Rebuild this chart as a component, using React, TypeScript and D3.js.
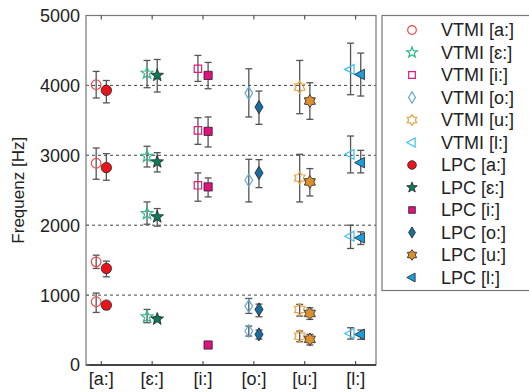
import { useEffect, useRef } from "react";
import * as d3 from "d3";

// vowel categories on the x axis
const categories = ["[a:]", "[\u025B:]", "[i:]", "[o:]", "[u:]", "[l:]"];
const yTicks = [0, 1000, 2000, 3000, 4000, 5000];
const gridValues = [1000, 2000, 3000, 4000];

// per category: formants F1..F4 (Hz); null = not measured
const vtmiValues = [
  [905, 1476, 2886, 4010],
  [690, 2167, 2986, 4176],
  [null, 2571, 3357, 4238],
  [486, 843, 2643, 3890],
  [414, 795, 2676, 3976],
  [452, 1843, 3014, 4229]
];
const vtmiLower = [
  [752, 1381, 2657, 3820],
  [605, 2014, 2833, 3967],
  [null, 2343, 3157, 4057],
  [414, 738, 2333, 3548],
  [333, 700, 2333, 3595],
  [371, 1667, 2748, 3867]
];
const vtmiUpper = [
  [1029, 1571, 3104, 4200],
  [795, 2333, 3129, 4357],
  [null, 2748, 3538, 4429],
  [557, 952, 2943, 4238],
  [486, 867, 3014, 4357],
  [533, 2000, 3276, 4604]
];
const lpcValues = [
  [857, 1381, 2824, 3930],
  [657, 2119, 2905, 4143],
  [286, 2548, 3343, 4143],
  [438, 795, 2748, 3690],
  [367, 738, 2619, 3776],
  [438, 1819, 2895, 4157]
];
const lpcLower = [
  [795, 1262, 2643, 3750],
  [629, 1986, 2762, 3905],
  [null, 2405, 3119, 3952],
  [371, 690, 2538, 3443],
  [286, 652, 2419, 3514],
  [367, 1724, 2748, 3848]
];
const lpcUpper = [
  [905, 1486, 3024, 4070],
  [690, 2238, 3038, 4371],
  [null, 2676, 3548, 4329],
  [500, 871, 2938, 3919],
  [438, 819, 2810, 4038],
  [500, 1905, 3071, 4462]
];

const shapes = ["circle", "star", "square", "diamond", "hexagram", "triangle"];
const openColors = ["#f04848", "#2db88c", "#e2197f", "#62a8d6", "#e8a040", "#3cc0f0"];
const fillColors = ["#e8141c", "#0e7a5a", "#e0127e", "#1a6c9e", "#d8912e", "#1a9ee0"];

function markerPath(shape: string, r: number): string {
  const poly = (pts: [number, number][]) =>
    "M" + pts.map((p) => `${p[0].toFixed(2)},${p[1].toFixed(2)}`).join("L") + "Z";
  const starPts = (n: number, inner: number) => {
    const pts: [number, number][] = [];
    for (let k = 0; k < 2 * n; k++) {
      const a = -Math.PI / 2 + (k * Math.PI) / n;
      const rr = k % 2 === 0 ? r : r * inner;
      pts.push([rr * Math.cos(a), rr * Math.sin(a)]);
    }
    return pts;
  };
  switch (shape) {
    case "circle":
      return d3.symbol(d3.symbolCircle, Math.PI * r * r)() as string;
    case "star":
      return poly(starPts(5, 0.42));
    case "square":
      return poly([[-r, -r], [r, -r], [r, r], [-r, r]]);
    case "diamond":
      return poly([[0, -r], [r * 0.62, 0], [0, r], [-r * 0.62, 0]]);
    case "hexagram":
      return poly(starPts(6, 0.62));
    default:
      return poly([[-r, 0], [r * 0.6, -r * 0.85], [r * 0.6, r * 0.85]]);
  }
}

const markerSize: Record<string, number> = {
  circle: 4.8,
  star: 6.2,
  square: 3.7,
  diamond: 6.2,
  hexagram: 6,
  triangle: 5.8
};

export default function App() {
  const svgRef = useRef<SVGSVGElement | null>(null);

  useEffect(() => {
    if (!svgRef.current) return;
    const width = 529;
    const height = 392;
    const left = 86;
    const right = 376;
    const top = 15.5;
    const bottom = 365;

    const x = d3.scaleLinear().domain([0.7, 6.4]).range([left, right]);
    const y = d3.scaleLinear().domain([0, 5000]).range([bottom, top]);
    const off = 0.1;

    const svg = d3.select(svgRef.current);
    svg.selectAll("*").remove();
    svg.attr("width", width).attr("height", height);
    svg.append("rect").attr("width", width).attr("height", height).attr("fill", "#fff");

    const font = "'Liberation Sans', Arial, sans-serif";

    // dashed grid lines
    svg
      .append("g")
      .selectAll("line")
      .data(gridValues)
      .enter()
      .append("line")
      .attr("x1", left)
      .attr("x2", right)
      .attr("y1", (d) => y(d))
      .attr("y2", (d) => y(d))
      .attr("stroke", "#444")
      .attr("stroke-width", 1)
      .attr("stroke-dasharray", "3,3");

    // box
    svg
      .append("rect")
      .attr("x", left)
      .attr("y", top)
      .attr("width", right - left)
      .attr("height", bottom - top)
      .attr("fill", "none")
      .attr("stroke", "#777")
      .attr("stroke-width", 1.2);
    svg
      .append("line")
      .attr("x1", left)
      .attr("x2", right)
      .attr("y1", bottom)
      .attr("y2", bottom)
      .attr("stroke", "#222")
      .attr("stroke-width", 1.3);

    // category ticks top and bottom (inward)
    const cats = categories.map((_, i) => i + 1);
    const tk = svg.append("g").attr("stroke", "#333").attr("stroke-width", 1);
    cats.forEach((c) => {
      tk.append("line").attr("x1", x(c)).attr("x2", x(c)).attr("y1", bottom).attr("y2", bottom - 4);
      tk.append("line").attr("x1", x(c)).attr("x2", x(c)).attr("y1", top).attr("y2", top + 4);
    });
    yTicks.forEach((v) => {
      tk.append("line").attr("x1", left).attr("x2", left + 3).attr("y1", y(v)).attr("y2", y(v)).attr("stroke", "#777");
    });

    svg
      .append("g")
      .selectAll("text")
      .data(categories)
      .enter()
      .append("text")
      .attr("x", (_, i) => x(i + 1))
      .attr("y", 385)
      .attr("text-anchor", "middle")
      .attr("font-family", font)
      .attr("font-size", 18)
      .attr("fill", "#222")
      .text((d) => d);

    svg
      .append("g")
      .selectAll("text")
      .data(yTicks)
      .enter()
      .append("text")
      .attr("x", left - 6)
      .attr("y", (d) => y(d))
      .attr("dy", "0.36em")
      .attr("text-anchor", "end")
      .attr("font-family", font)
      .attr("font-size", 18)
      .attr("fill", "#222")
      .text((d) => String(d));

    svg
      .append("text")
      .attr("transform", `translate(24,${(top + bottom) / 2}) rotate(-90)`)
      .attr("text-anchor", "middle")
      .attr("font-family", font)
      .attr("font-size", 17)
      .attr("fill", "#222")
      .text("Frequenz [Hz]");

    // error bars
    const drawBar = (g: d3.Selection<SVGGElement, unknown, null, undefined>, cx: number, lo: number, hi: number) => {
      const cap = 3.5;
      g.append("line").attr("x1", cx).attr("x2", cx).attr("y1", y(lo)).attr("y2", y(hi));
      g.append("line").attr("x1", cx - cap).attr("x2", cx + cap).attr("y1", y(lo)).attr("y2", y(lo));
      g.append("line").attr("x1", cx - cap).attr("x2", cx + cap).attr("y1", y(hi)).attr("y2", y(hi));
    };
    const bars = svg.append("g").attr("stroke", "#555").attr("stroke-width", 1.3);
    categories.forEach((_, i) => {
      for (let f = 0; f < 4; f++) {
        const vl = vtmiLower[i][f];
        const vh = vtmiUpper[i][f];
        if (vl != null && vh != null) drawBar(bars, x(i + 1 - off), vl, vh);
        const ll = lpcLower[i][f];
        const lh = lpcUpper[i][f];
        if (ll != null && lh != null) drawBar(bars, x(i + 1 + off), ll, lh);
      }
    });

    // markers
    const marks = svg.append("g");
    categories.forEach((_, i) => {
      const shape = shapes[i];
      const r = markerSize[shape];
      for (let f = 0; f < 4; f++) {
        const v = vtmiValues[i][f];
        if (v != null) {
          marks
            .append("path")
            .attr("d", markerPath(shape, r))
            .attr("transform", `translate(${x(i + 1 - off)},${y(v)})`)
            .attr("fill", "none")
            .attr("stroke", openColors[i])
            .attr("stroke-width", 1.2);
        }
      }
      for (let f = 0; f < 4; f++) {
        const v = lpcValues[i][f];
        if (v != null) {
          marks
            .append("path")
            .attr("d", markerPath(shape, r + 0.4))
            .attr("transform", `translate(${x(i + 1 + off)},${y(v)})`)
            .attr("fill", fillColors[i])
            .attr("stroke", "#222")
            .attr("stroke-width", 0.8);
        }
      }
    });

    // legend
    const lg = svg.append("g");
    lg.append("rect")
      .attr("x", 382)
      .attr("y", 15.5)
      .attr("width", 200)
      .attr("height", 275)
      .attr("fill", "#fff")
      .attr("stroke", "#777")
      .attr("stroke-width", 1.2);
    const entries = [
      ...categories.map((c, i) => ({ label: `VTMI ${c}`, i, filled: false })),
      ...categories.map((c, i) => ({ label: `LPC ${c}`, i, filled: true }))
    ];
    entries.forEach((e, k) => {
      const ly = 30 + k * 22.5;
      const shape = shapes[e.i];
      lg.append("path")
        .attr("d", markerPath(shape, markerSize[shape] * 0.9))
        .attr("transform", `translate(412,${ly})`)
        .attr("fill", e.filled ? fillColors[e.i] : "none")
        .attr("stroke", e.filled ? "#222" : openColors[e.i])
        .attr("stroke-width", e.filled ? 0.8 : 1.2);
      lg.append("text")
        .attr("x", 441)
        .attr("y", ly)
        .attr("dy", "0.36em")
        .attr("font-family", font)
        .attr("font-size", 18)
        .attr("fill", "#222")
        .text(e.label);
    });
  }, []);

  return <svg ref={svgRef} style={{ position: "absolute", left: 0, top: 0 }} />;
}
